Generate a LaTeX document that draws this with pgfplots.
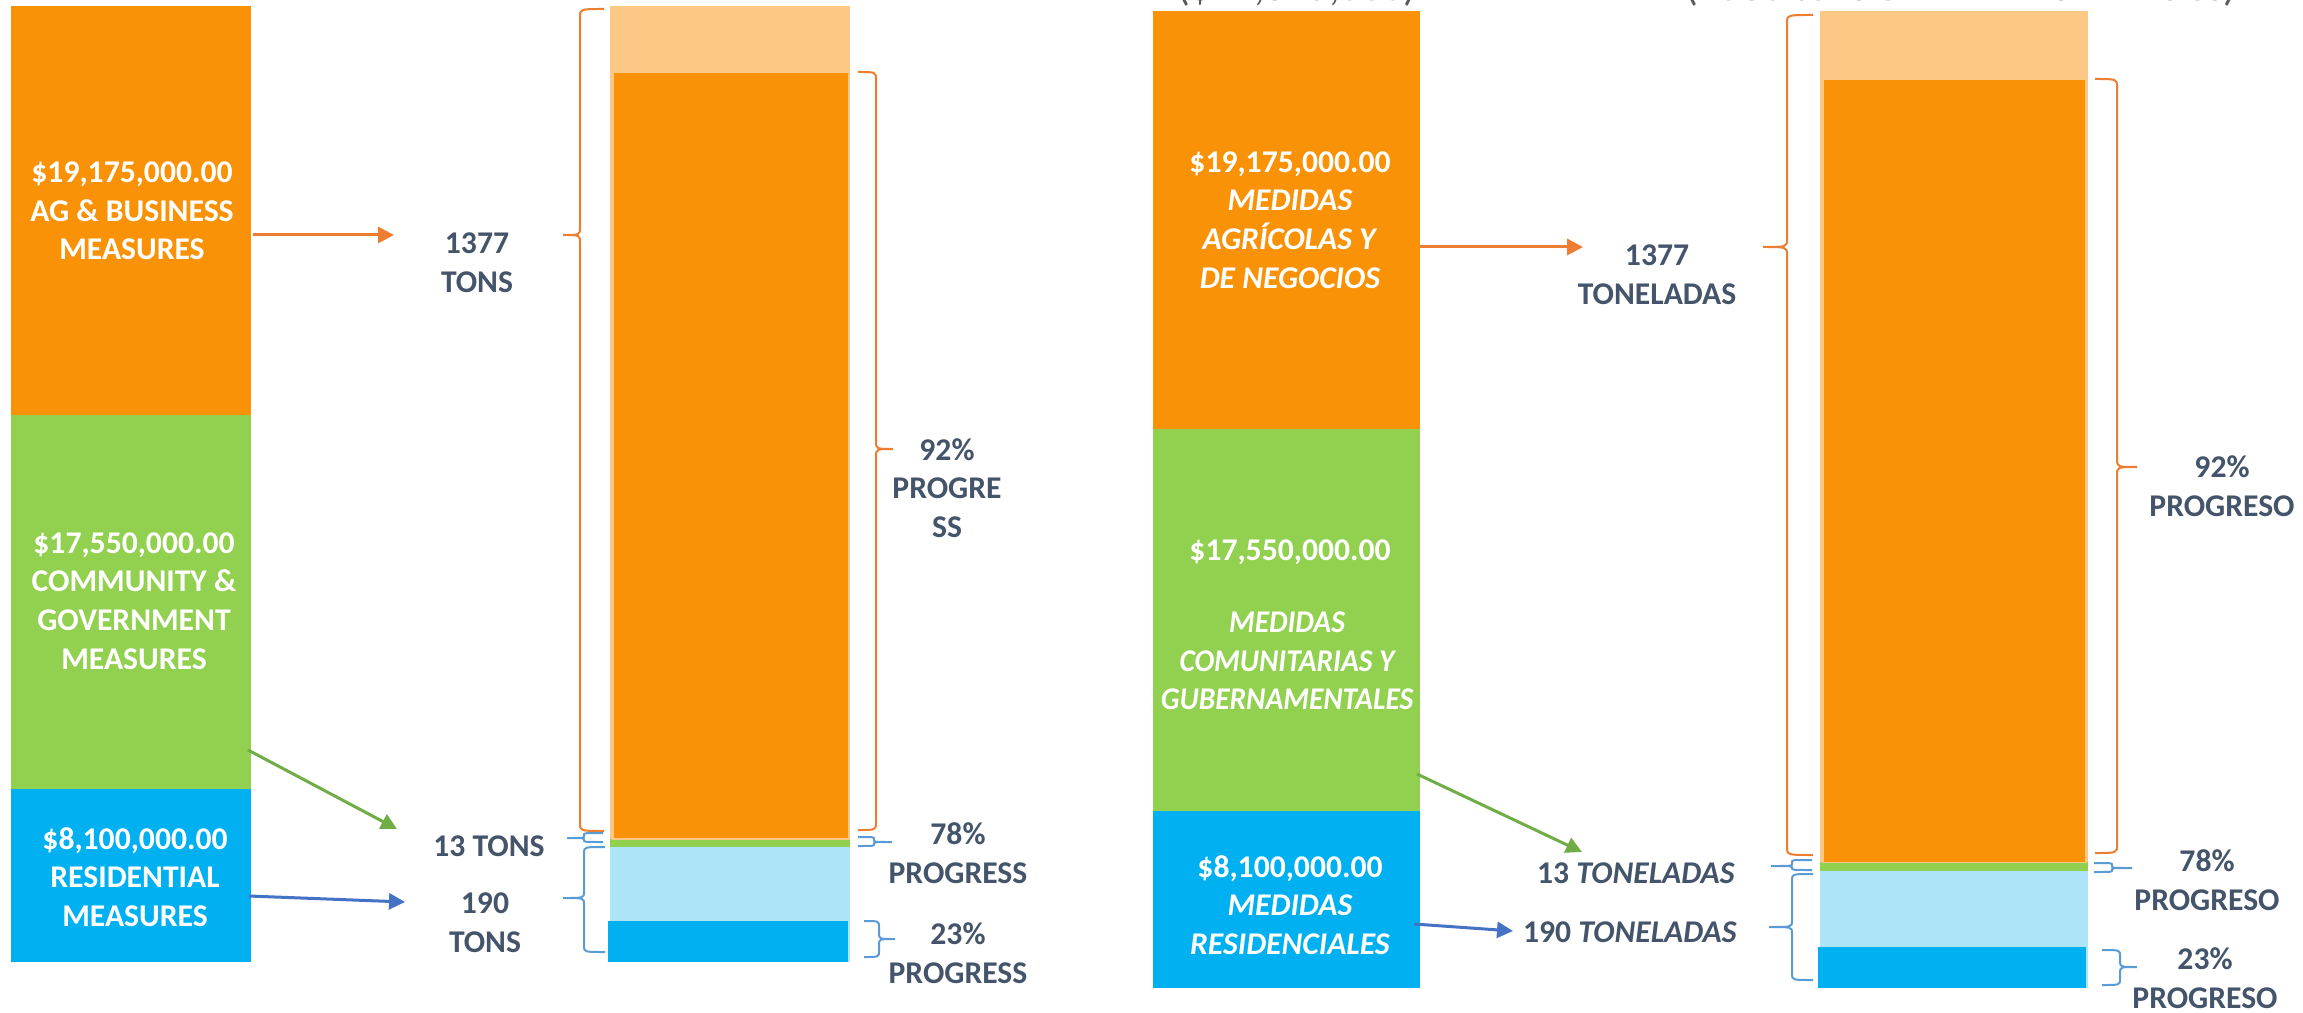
\documentclass[border=0pt]{standalone}
\usepackage{pgfplots}
\pgfplotsset{compat=1.18}
\usepackage{fontspec}
\setmainfont{Carlito}
\usetikzlibrary{arrows.meta}
\definecolor{corange}{HTML}{F99207}
\definecolor{corangeL}{HTML}{FBC886}
\definecolor{cgreen}{HTML}{92D050}
\definecolor{cblue}{HTML}{00B0F0}
\definecolor{cblueL}{HTML}{AEE4F8}
\definecolor{slate}{HTML}{44546A}
\definecolor{aorange}{HTML}{ED7D31}
\definecolor{agreen}{HTML}{70AD47}
\definecolor{ablue}{HTML}{4472C4}
\definecolor{bblue}{HTML}{5B9BD5}
\definecolor{tgray}{HTML}{595959}
\pgfplotsset{
 barax/.style={scale only axis, hide axis, anchor=south west, xmin=0, xmax=1, ymin=0,
   enlargelimits=false, ybar stacked, bar width=1, clip=false},
}
\newcommand{\brc}[8]{%
 \draw[#1, line width=0.2mm] (#2,#5) .. controls (#3,#5) .. (#3,#5-#8) -- (#3,#6+#8)
   .. controls (#3,#6) .. (#4,#6) .. controls (#3,#6) .. (#3,#6-#8) -- (#3,#7+#8)
   .. controls (#3,#7) .. (#2,#7);}
\begin{document}
\begin{tikzpicture}
\useasboundingbox (0mm,0mm) rectangle (230.3mm,101.2mm);

% ---------- left panel: cost bar
\begin{axis}[barax, at={(1.1mm,5.0mm)}, width=24mm, height=95.6mm, ymax=44.825]
\addplot[fill=cblue, draw=none] coordinates {(0.5,8.1)};
\addplot[fill=cgreen, draw=none] coordinates {(0.5,17.55)};
\addplot[fill=corange, draw=none] coordinates {(0.5,19.175)};
\end{axis}
% ---------- left panel: tons bar (targets)
\begin{axis}[barax, at={(61.0mm,5.0mm)}, width=24mm, height=95.6mm, ymax=1580]
\addplot[fill=cblueL, draw=none] coordinates {(0.5,190)};
\addplot[fill=cgreen, draw=none] coordinates {(0.5,13)};
\addplot[fill=corangeL, draw=none] coordinates {(0.5,1377)};
\end{axis}
\begin{axis}[barax, at={(60.8mm,5.0mm)}, width=24mm, height=95.6mm, ymax=1580]
\addplot[fill=cblue, draw=none] coordinates {(0.5,67)};
\end{axis}
\begin{axis}[barax, at={(61.3mm,5.0mm)}, width=23.6mm, height=95.6mm, ymax=1580]
\addplot[fill=none, draw=none] coordinates {(0.5,203)};
\addplot[fill=corange, draw=corangeL, line width=0.15mm] coordinates {(0.5,1267)};
\end{axis}

% ---------- right panel: cost bar
\begin{axis}[barax, at={(115.3mm,2.4mm)}, width=26.7mm, height=97.7mm, ymax=44.825]
\addplot[fill=cblue, draw=none] coordinates {(0.5,8.1)};
\addplot[fill=cgreen, draw=none] coordinates {(0.5,17.55)};
\addplot[fill=corange, draw=none] coordinates {(0.5,19.175)};
\end{axis}
% ---------- right panel: tons bar
\begin{axis}[barax, at={(182.0mm,2.4mm)}, width=26.8mm, height=97.7mm, ymax=1580]
\addplot[fill=cblueL, draw=none] coordinates {(0.5,190)};
\addplot[fill=cgreen, draw=none] coordinates {(0.5,13)};
\addplot[fill=corangeL, draw=none] coordinates {(0.5,1377)};
\end{axis}
\begin{axis}[barax, at={(181.8mm,2.4mm)}, width=26.8mm, height=97.7mm, ymax=1580]
\addplot[fill=cblue, draw=none] coordinates {(0.5,67)};
\end{axis}
\begin{axis}[barax, at={(182.3mm,2.4mm)}, width=26.3mm, height=97.7mm, ymax=1580]
\addplot[fill=none, draw=none] coordinates {(0.5,203)};
\addplot[fill=corange, draw=corangeL, line width=0.15mm] coordinates {(0.5,1267)};
\end{axis}

\begin{scope}[x=0.1mm,y=0.1mm,
  wt/.style={text=white, align=center, inner sep=0pt, font=\fontsize{9}{11}\selectfont\bfseries},
  st/.style={text=slate, align=center, inner sep=0pt, font=\fontsize{9}{11}\selectfont\bfseries},
  arr/.style={line width=0.3mm, -{Triangle[length=1.6mm,width=1.6mm]}}]
% ---------- cut-off headings
\node[anchor=base, text=tgray, inner sep=0pt, font=\fontsize{12}{14}\selectfont] at (1297,1011) {(\$44,825,000)};
\node[anchor=base, text=tgray, inner sep=0pt, font=\fontsize{12}{14}\selectfont] at (1961,1011) {(1580 tons of PM – NOx – VOCs)};

% ---------- left panel texts
\node[wt] at (132,801) {\$19,175,000.00\\AG \& BUSINESS\\MEASURES};
\node[wt] at (134,411) {\$17,550,000.00\\COMMUNITY \&\\GOVERNMENT\\MEASURES};
\node[wt] at (135,135) {\$8,100,000.00\\RESIDENTIAL\\MEASURES};
\node[st] at (477,749) {1377\\TONS};
\node[st] at (489,166) {13 TONS};
\node[st] at (485,89) {190\\TONS};
\node[st] at (947,524) {92\%\\PROGRE\\SS};
\node[st] at (958,159) {78\%\\PROGRESS};
\node[st] at (958,59) {23\%\\PROGRESS};

% ---------- left panel arrows
\draw[arr, aorange] (253,777) -- (394,777);
\draw[arr, agreen] (248,262) -- (397,183);
\draw[arr, ablue] (249,116) -- (405,110);

% ---------- left panel braces
\brc{aorange}{604}{580}{563}{1003}{777}{181}{8}
\brc{bblue}{603}{584}{567}{179}{174}{170}{2}
\brc{bblue}{605}{584}{563}{165}{114}{60}{6}
\brc{aorange}{858}{876}{893}{940}{563}{182}{8}
\brc{bblue}{858}{874}{892}{175}{170}{166}{2}
\brc{bblue}{864}{879}{895}{91}{73}{55}{6}

% ---------- right panel texts
\node[wt] at (1290,792) {\$19,175,000.00\\\textit{MEDIDAS}\\\textit{AGRÍCOLAS Y}\\\textit{DE NEGOCIOS}};
\node[wt] at (1290,460) {\$17,550,000.00};
\node[wt, xscale=0.93, font=\fontsize{9}{11}\selectfont\bfseries\itshape] at (1287,351) {MEDIDAS\\COMUNITARIAS Y\\GUBERNAMENTALES};
\node[wt] at (1290,107) {\$8,100,000.00\\\textit{MEDIDAS}\\\textit{RESIDENCIALES}};
\node[st] at (1657,737) {1377\\TONELADAS};
\node[st] at (1636,139) {13 \textit{TONELADAS}};
\node[st] at (1630,80) {190 \textit{TONELADAS}};
\node[st] at (2222,526) {92\%\\PROGRESO};
\node[st] at (2207,132) {78\%\\PROGRESO};
\node[st] at (2205,34) {23\%\\PROGRESO};

% ---------- right panel arrows
\draw[arr, aorange] (1420,765) -- (1583,765);
\draw[arr, agreen] (1417,238) -- (1582,160);
\draw[arr, ablue] (1414,88) -- (1513,81);

% ---------- right panel braces
\brc{aorange}{1813}{1787}{1763}{997}{765}{157}{8}
\brc{bblue}{1812}{1792}{1771}{152}{146}{142}{2}
\brc{bblue}{1813}{1792}{1769}{138}{85}{32}{6}
\brc{aorange}{2095}{2117}{2137}{933}{545}{159}{8}
\brc{bblue}{2094}{2112}{2132}{149}{144}{140}{2}
\brc{bblue}{2102}{2120}{2137}{62}{45}{27}{6}
\end{scope}
\end{tikzpicture}
\end{document}
